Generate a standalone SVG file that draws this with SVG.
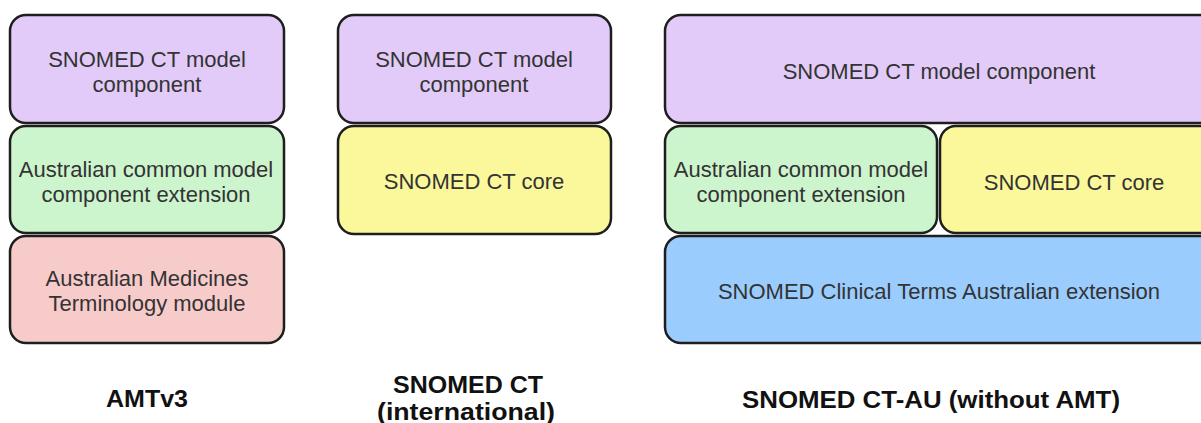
<svg xmlns="http://www.w3.org/2000/svg" width="1201" height="423" viewBox="0 0 1201 423">
<style>
.b{stroke:#1e1e1e;stroke-width:2.5}
.p{fill:#e2cbf8}.g{fill:#cdf5cd}.r{fill:#f8cbcb}.y{fill:#fbf89c}.u{fill:#9accfd}
.t{font-family:"Liberation Sans",Arial,sans-serif;font-size:22px;fill:#333;text-anchor:middle}
.l{font-family:"Liberation Sans",Arial,sans-serif;font-size:23px;font-weight:bold;fill:#111;text-anchor:middle}
</style>
<rect width="1201" height="423" fill="#fff"/>
<g id="amt-model"><rect class="b p" x="10" y="15" width="274" height="108" rx="16"/><text class="t" x="147" y="67">SNOMED CT model</text><text class="t" x="147" y="92">component</text></g>
<g id="amt-common"><rect class="b g" x="10" y="126" width="274" height="107" rx="16"/><text class="t" x="146" y="177">Australian common model</text><text class="t" x="146" y="202">component extension</text></g>
<g id="amt-module"><rect class="b r" x="10" y="236" width="274" height="107" rx="16"/><text class="t" x="147" y="286">Australian Medicines</text><text class="t" x="147" y="311">Terminology module</text></g>
<g id="int-model"><rect class="b p" x="338" y="15" width="273" height="108" rx="16"/><text class="t" x="474" y="67">SNOMED CT model</text><text class="t" x="474" y="92">component</text></g>
<g id="int-core"><rect class="b y" x="338" y="126" width="273" height="108" rx="16"/><text class="t" x="474" y="189">SNOMED CT core</text></g>
<g id="au-model"><rect class="b p" x="665" y="15" width="550" height="108" rx="16"/><text class="t" x="939" y="79">SNOMED CT model component</text></g>
<g id="au-common"><rect class="b g" x="665" y="126" width="272" height="107" rx="16"/><text class="t" x="801" y="177">Australian common model</text><text class="t" x="801" y="202">component extension</text></g>
<g id="au-core"><rect class="b y" x="940" y="126" width="275" height="107" rx="16"/><text class="t" x="1074" y="190">SNOMED CT core</text></g>
<g id="au-ext"><rect class="b u" x="665" y="236" width="550" height="107" rx="16"/><text class="t" x="939" y="299">SNOMED Clinical Terms Australian extension</text></g>
<g id="captions">
<text class="l" x="147" y="407" textLength="82" lengthAdjust="spacingAndGlyphs">AMTv3</text>
<text class="l" x="468" y="393" textLength="150" lengthAdjust="spacingAndGlyphs">SNOMED CT</text>
<text class="l" x="466" y="420" textLength="178" lengthAdjust="spacingAndGlyphs">(international)</text>
<text class="l" x="931" y="408" textLength="378" lengthAdjust="spacingAndGlyphs">SNOMED CT-AU (without AMT)</text>
</g>
<g id="connectors"/>
</svg>
